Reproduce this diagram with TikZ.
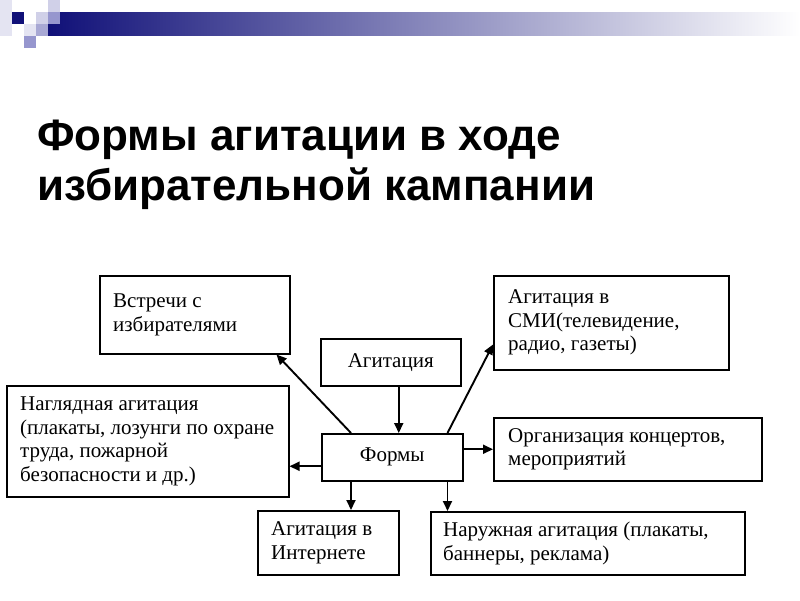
\documentclass[tikz,border=0pt]{standalone}
\usepackage{fontspec}
\setmainfont{Liberation Serif}
\newfontfamily\titlefont{Liberation Sans}
\usetikzlibrary{arrows.meta,calc}
\definecolor{navy}{RGB}{16,16,120}
\definecolor{sqA}{RGB}{228,228,242}
\definecolor{sqB}{RGB}{208,208,232}
\definecolor{sqC}{RGB}{150,150,206}
\definecolor{sqD}{RGB}{168,168,212}
\begin{document}
\begin{tikzpicture}[x=1pt,y=-1pt,
  box/.style={draw, line width=1.5pt, inner sep=0pt, anchor=north west},
  txt/.style={anchor=west, align=left, inner sep=0pt, font=\fontsize{21}{23.5}\selectfont},
  ctxt/.style={inner sep=0pt, font=\fontsize{21}{23.5}\selectfont},
  ttl/.style={anchor=base west, inner sep=0pt, font=\titlefont\bfseries\fontsize{44}{50}\selectfont},
  arr/.style={line width=1.9pt, -{Triangle[length=10pt,width=9pt]}}]
\useasboundingbox (0,0) rectangle (800,600);
\fill[white] (0,0) rectangle (800,600);
% decorative header
\shade[left color=navy, right color=white] (48,12) rectangle (800,35);
\fill[sqA] (0,0) rectangle (12,36);
\fill[navy] (12,12) rectangle (24,24);
\fill[sqB] (36,12) rectangle (48,24);
\fill[sqB] (48,0) rectangle (60,12);
\fill[sqC] (48,12) rectangle (60,24);
\fill[sqA] (24,24) rectangle (36,36);
\fill[sqD] (36,24) rectangle (48,36);
\fill[sqC] (24,36) rectangle (36,48);
% title
\node[ttl] (t1) at (37,150) {Формы агитации в ходе};
\node[ttl] (t2) at (37,200) {избирательной кампании};
% boxes
\node[box, minimum width=190pt, minimum height=78pt] (vstr) at (99,275) {};
\node[txt] at ($(vstr.west)+(14,0)$) {Встречи с\\избирателями};
\node[box, minimum width=140pt, minimum height=47pt] (agit) at (320,338) {};
\node[ctxt] at (agit.center) {Агитация};
\node[box, minimum width=235pt, minimum height=94pt] (smi) at (493,275) {};
\node[txt] at ($(smi.west)+(15,0)$) {Агитация в\\СМИ(телевидение,\\радио, газеты)};
\node[box, minimum width=282pt, minimum height=111pt] (nagl) at (6,385) {};
\node[txt] at ($(nagl.west)+(14,0)$) {Наглядная агитация\\(плакаты, лозунги по охране\\труда, пожарной\\безопасности и др.)};
\node[box, minimum width=141pt, minimum height=47pt] (formy) at (321,433) {};
\node[ctxt] at (formy.center) {Формы};
\node[box, minimum width=268pt, minimum height=63pt] (org) at (493,417) {};
\node[txt] at ($(org.west)+(15,0)$) {Организация концертов,\\мероприятий};
\node[box, minimum width=141pt, minimum height=64pt] (inet) at (257,510) {};
\node[txt] at ($(inet.west)+(14,0)$) {Агитация в\\Интернете};
\node[box, minimum width=314pt, minimum height=63pt] (naru) at (430,511) {};
\node[txt] at ($(naru.west)+(13,0)$) {Наружная агитация (плакаты,\\баннеры, реклама)};
% arrows
\draw[arr] ([xshift=8pt]agit.south) -- ([xshift=8pt]agit.south |- formy.north);
\draw[arr] ([xshift=30pt]formy.north west) -- ($(vstr.south east)+(-14,0)$);
\draw[arr] ([xshift=-16pt]formy.north east) -- ($(smi.south west)+(0,-26)$);
\draw[arr] ([yshift=-9pt]formy.west) -- ([yshift=-9pt]formy.west -| nagl.east);
\draw[arr] (formy.east |- org.west) -- (org.west);
\draw[arr] ([xshift=30pt]formy.south west) -- ([xshift=30pt]formy.south west |- inet.north);
\draw[arr] ([xshift=-16pt]formy.south east) -- ([xshift=-16pt]formy.south east |- naru.north);
\end{tikzpicture}
\end{document}
